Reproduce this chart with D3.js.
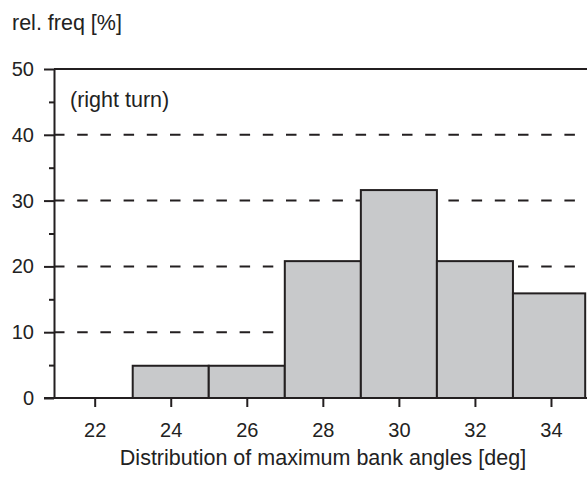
<!DOCTYPE html>
<html>
<head>
<meta charset="utf-8">
<script src="https://cdn.jsdelivr.net/npm/d3@7"></script>
<style>
  body { margin: 0; background: #fff; }
  svg { display: block; font-family: "Liberation Sans", Arial, sans-serif; }
  .axis text { font-size: 20px; fill: #222; }
  .axis path, .axis line { stroke: #231f20; stroke-width: 2; }
  .label { font-size: 21.5px; fill: #222; }
</style>
</head>
<body>
<svg></svg>
<script>
var width = 587;
var height = 478;

// histogram bins (deg) and relative frequencies (%)
var binStarts = [23, 25, 27, 29, 31, 33];
var binEnds   = [25, 27, 29, 31, 33, 34.9];
var relFreq   = [4.9, 4.9, 20.8, 31.6, 20.8, 15.9];

var xTicks = [22, 24, 26, 28, 30, 32, 34];
var yTicks = [0, 10, 20, 30, 40, 50];
var yMinor = [5, 15, 25, 35, 45];
var gridVals = [10, 20, 30, 40];

var plotLeft = 54, plotTop = 69, plotBottom = 398, plotRight = 587;

var svg = d3.select("svg")
    .attr("width", width)
    .attr("height", height);

var x = d3.scaleLinear().domain([20.93, 35]).range([plotLeft, 589]);
var y = d3.scaleLinear().domain([0, 50]).range([plotBottom, plotTop]);

// dashed grid
svg.append("g").selectAll("line")
    .data(gridVals)
  .enter().append("line")
    .attr("x1", plotLeft)
    .attr("x2", plotRight)
    .attr("y1", function(d) { return y(d); })
    .attr("y2", function(d) { return y(d); })
    .style("stroke", "#231f20")
    .style("stroke-width", 2)
    .style("stroke-dasharray", "10.5,12.7");

// bars
var bars = binStarts.map(function(s, i) {
  return { x0: s, x1: binEnds[i], v: relFreq[i] };
});

svg.append("g").selectAll("rect")
    .data(bars)
  .enter().append("rect")
    .attr("x", function(d) { return x(d.x0); })
    .attr("width", function(d) { return x(d.x1) - x(d.x0); })
    .attr("y", function(d) { return y(d.v); })
    .attr("height", function(d) { return y(0) - y(d.v); })
    .style("fill", "#c8c9cb")
    .style("stroke", "#231f20")
    .style("stroke-width", 2);

// top border
svg.append("line")
    .attr("x1", plotLeft).attr("x2", plotRight)
    .attr("y1", plotTop).attr("y2", plotTop)
    .style("stroke", "#231f20")
    .style("stroke-width", 2);

// y axis
svg.append("g")
    .attr("class", "axis")
    .attr("transform", "translate(" + plotLeft + ",0)")
    .call(d3.axisLeft(y).tickValues(yTicks).tickSize(10).tickPadding(10).tickSizeOuter(0));

svg.append("g")
    .attr("class", "axis")
    .attr("transform", "translate(" + plotLeft + ",0)")
    .call(d3.axisLeft(y).tickValues(yMinor).tickSize(5).tickFormat("").tickSizeOuter(0))
    .select(".domain").remove();

// x axis
var xAxis = svg.append("g")
    .attr("class", "axis")
    .attr("transform", "translate(0," + plotBottom + ")")
    .call(d3.axisBottom(x).tickValues(xTicks).tickSize(9).tickPadding(16).tickSizeOuter(0));
xAxis.select(".domain").attr("d", "M" + (plotLeft - 10) + ",0H" + plotRight);

// labels
svg.append("text")
    .attr("class", "label")
    .attr("x", 12)
    .attr("y", 30)
    .text("rel. freq [%]");

svg.append("text")
    .attr("class", "label")
    .attr("x", 70)
    .attr("y", 107)
    .text("(right turn)");

svg.append("text")
    .attr("class", "label")
    .attr("x", 323)
    .attr("y", 465)
    .attr("text-anchor", "middle")
    .text("Distribution of maximum bank angles [deg]");
</script>
</body>
</html>
